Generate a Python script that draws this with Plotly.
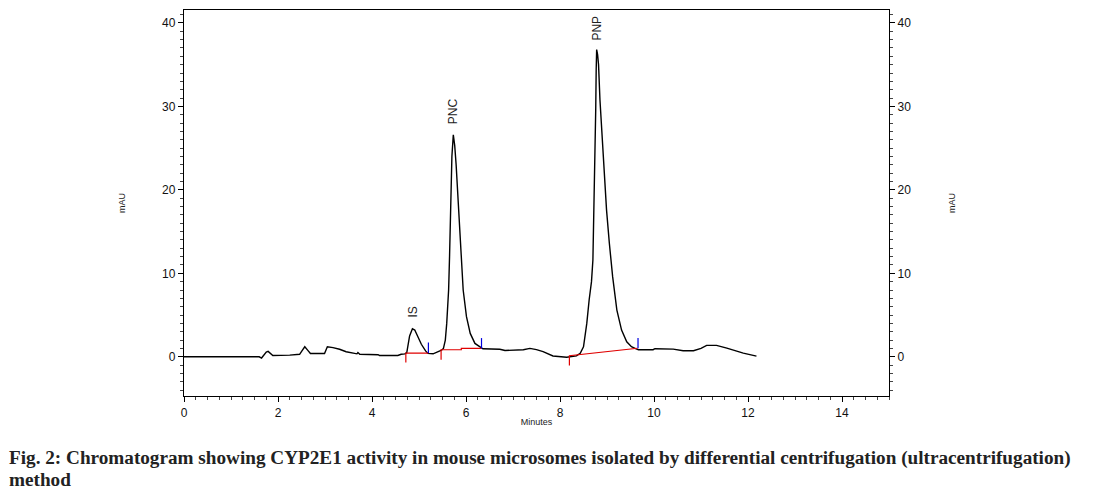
import plotly.graph_objects as go

# Chromatogram trace (time in minutes, signal in mAU)
time_min = [0.0, 1.60, 1.65, 1.70, 1.75, 1.79, 1.84, 1.89, 2.25, 2.46, 2.52, 2.57, 2.63, 2.69,
            2.99, 3.05, 3.17, 3.31, 3.45, 3.60, 3.68, 3.70, 3.74, 4.13, 4.16, 4.55, 4.62, 4.70,
            4.74, 4.80, 4.86, 4.91, 4.98, 5.05, 5.14, 5.19, 5.30, 5.38, 5.48, 5.52, 5.56, 5.59,
            5.63, 5.65, 5.68, 5.70, 5.73, 5.76, 5.79, 5.84, 5.89, 5.94, 6.01, 6.09, 6.19, 6.30,
            6.36, 6.72, 6.83, 7.22, 7.36, 7.50, 7.64, 7.85, 8.14, 8.35, 8.43, 8.50, 8.57, 8.62,
            8.67, 8.70, 8.72, 8.75, 8.76, 8.77, 8.78, 8.80, 8.82, 8.85, 8.90, 8.94, 8.99, 9.05,
            9.12, 9.21, 9.31, 9.42, 9.52, 9.62, 9.67, 9.98, 10.02, 10.41, 10.62, 10.84, 11.00,
            11.12, 11.33, 11.55, 11.90, 12.18]
signal_mau = [0.0, 0.0, -0.15, 0.25, 0.55, 0.64, 0.4, 0.16, 0.2, 0.3, 0.8, 1.2, 0.8, 0.4,
              0.4, 1.2, 1.1, 0.9, 0.6, 0.4, 0.35, 0.5, 0.3, 0.25, 0.15, 0.15, 0.3, 0.35,
              0.5, 2.5, 3.36, 3.2, 2.3, 1.5, 0.7, 0.4, 0.36, 0.56, 0.8, 1.0, 2.0, 4.0,
              8.0, 12.0, 18.0, 24.0, 26.6, 25.3, 23.0, 18.0, 12.0, 8.0, 4.8, 2.8, 1.6, 1.2,
              0.96, 0.9, 0.75, 0.84, 1.0, 0.85, 0.62, 0.1, -0.05, 0.1, 0.42, 1.2, 4.0, 6.8,
              9.0, 11.6, 17.6, 23.6, 29.6, 34.4, 36.8, 36.2, 35.0, 30.8, 25.6, 21.6, 17.6, 13.6,
              9.6, 5.6, 3.2, 1.8, 1.2, 0.95, 0.85, 0.85, 0.97, 0.92, 0.72, 0.72, 1.0,
              1.36, 1.36, 1.04, 0.44, 0.08]

# Integration baselines (red) and peak markers
base_is_t = [4.72, 4.72, 5.20]
base_is_y = [-0.68, 0.44, 0.44]
base_pnc_t = [5.47, 5.47, 5.90, 5.90, 6.32]
base_pnc_y = [-0.36, 0.84, 0.84, 1.0, 1.0]
base_pnp_t = [8.20, 8.20, 9.65]
base_pnp_y = [-1.04, 0.12, 1.02]
end_marks_t = [5.20, 5.20, None, 6.33, 6.33, None, 9.66, 9.66]
end_marks_y = [0.44, 1.72, None, 1.0, 2.24, None, 1.02, 2.24]

peak_names = ["IS", "PNC", "PNP"]
peak_label_t = [4.87, 5.74, 8.78]
peak_label_y = [5.4, 29.4, 39.4]

x_ticks = [0, 2, 4, 6, 8, 10, 12, 14]
y_ticks = [0, 10, 20, 30, 40]

caption_lines = ["Fig. 2: Chromatogram showing CYP2E1 activity in mouse microsomes isolated by "
                 "differential centrifugation (ultracentrifugation)",
                 "method"]

fig = go.Figure()
fig.add_trace(go.Scatter(x=time_min, y=signal_mau, mode="lines",
                         line=dict(color="black", width=1.4, shape="linear"),
                         hoverinfo="skip", showlegend=False))
for bt, by in [(base_is_t, base_is_y), (base_pnc_t, base_pnc_y), (base_pnp_t, base_pnp_y)]:
    fig.add_trace(go.Scatter(x=bt, y=by, mode="lines", line=dict(color="#e00000", width=1.2),
                             hoverinfo="skip", showlegend=False))
fig.add_trace(go.Scatter(x=end_marks_t, y=end_marks_y, mode="lines",
                         line=dict(color="#0000e0", width=1.2), connectgaps=False,
                         hoverinfo="skip", showlegend=False))
# invisible copy to anchor the right axis
fig.add_trace(go.Scatter(x=time_min, y=signal_mau, mode="lines", yaxis="y2",
                         line=dict(color="rgba(0,0,0,0)", width=0),
                         hoverinfo="skip", showlegend=False))

for name, t, y in zip(peak_names, peak_label_t, peak_label_y):
    fig.add_annotation(x=t, y=y, text=name, showarrow=False, textangle=-90,
                       font=dict(family="Liberation Sans, Arial", size=12, color="#222"))

yr = [-4.7, 41.55]
axis_font = dict(family="Liberation Sans, Arial", size=12, color="#111")
small_font = dict(family="Liberation Sans, Arial", size=9, color="#222")
fig.update_layout(
    width=1090, height=486,
    margin=dict(l=176, r=209, t=2, b=98),
    paper_bgcolor="white", plot_bgcolor="white",
    xaxis=dict(range=[0, 15], tickvals=x_ticks, ticks="outside", ticklen=5, tickwidth=1,
               tickcolor="black", showline=True, linecolor="black", linewidth=1.3, mirror=True,
               showgrid=False, zeroline=False, tickfont=axis_font,
               minor=dict(dtick=0.25, ticks="outside", ticklen=3, tickcolor="#444", showgrid=False),
               title=dict(text="Minutes", font=small_font, standoff=0)),
    yaxis=dict(range=yr, tickvals=y_ticks, ticks="outside", ticklen=5, tickwidth=1,
               tickcolor="black", showline=True, linecolor="black", linewidth=1.3,
               showgrid=False, zeroline=False, tickfont=axis_font,
               minor=dict(dtick=1, ticks="outside", ticklen=3, tickcolor="#444", showgrid=False),
               title=dict(text="mAU", font=small_font, standoff=34)),
    yaxis2=dict(range=yr, tickvals=y_ticks, overlaying="y", side="right", ticks="outside",
                ticklen=5, tickwidth=1, tickcolor="black", showline=True, linecolor="black",
                linewidth=1.3, showgrid=False, zeroline=False, tickfont=axis_font,
                minor=dict(dtick=1, ticks="outside", ticklen=3, tickcolor="#444", showgrid=False),
                title=dict(text="mAU", font=small_font, standoff=38)),
)
caption_font = dict(family="Liberation Serif, Times New Roman", size=19.2, color="#222")
for line, ypos in zip(caption_lines, [-0.1606, -0.2176]):
    fig.add_annotation(xref="paper", yref="paper", x=(7 - 184) / 705, y=ypos, xanchor="left",
                       yanchor="middle", align="left", showarrow=False,
                       text="<b>" + line + "</b>", font=caption_font)
fig.write_html("out.html")
